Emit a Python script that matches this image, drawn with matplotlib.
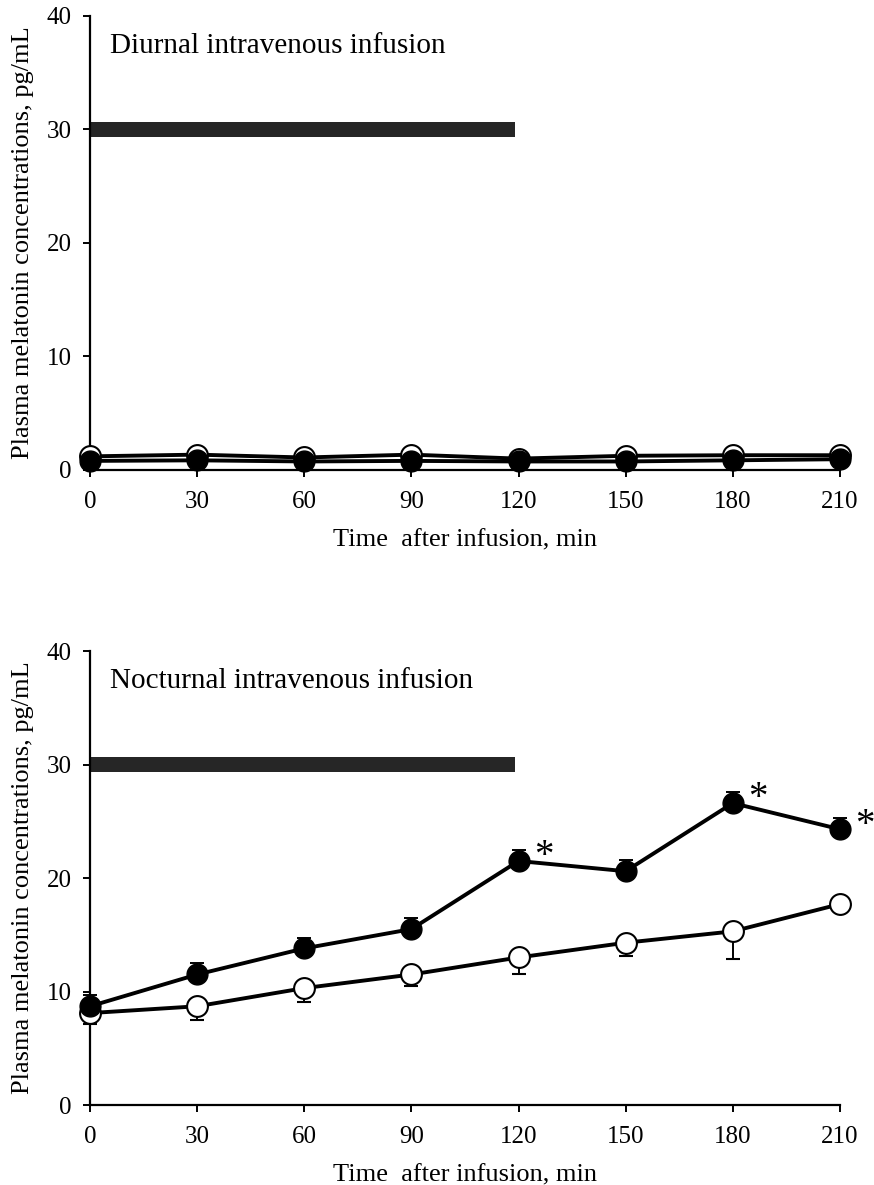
import matplotlib
matplotlib.use("Agg")
import matplotlib.pyplot as plt

# -----------------------------
# Data
# -----------------------------
times = [0, 30, 60, 90, 120, 150, 180, 210]
xticks = [0, 30, 60, 90, 120, 150, 180, 210]
yticks = [0, 10, 20, 30, 40]

# diurnal infusion (top panel)
day_open = [1.2, 1.35, 1.1, 1.35, 1.0, 1.25, 1.3, 1.3]
day_filled = [0.8, 0.85, 0.75, 0.8, 0.75, 0.75, 0.85, 0.95]

# nocturnal infusion (bottom panel)
night_open = [8.1, 8.7, 10.3, 11.5, 13.0, 14.3, 15.3, 17.7]
night_open_err = [1.0, 1.2, 1.2, 1.0, 1.5, 1.2, 2.4, 0.3]
night_filled = [8.7, 11.5, 13.8, 15.5, 21.5, 20.6, 26.6, 24.3]
night_filled_err = [1.0, 1.0, 0.9, 1.0, 1.0, 0.95, 0.95, 0.95]
sig_times = [120, 180, 210]

infusion_start = 0
infusion_end = 119
infusion_level = 30

titles = ["Diurnal intravenous infusion", "Nocturnal intravenous infusion"]

# -----------------------------
# Style
# -----------------------------
plt.rcParams["font.family"] = ["Liberation Serif", "DejaVu Serif"]

fig = plt.figure(figsize=(8.74, 11.85), dpi=100)
ax_top = fig.add_axes([0.103, 0.6034, 0.858, 0.3831])
ax_bot = fig.add_axes([0.103, 0.0675, 0.858, 0.3831])

LW = 2.8
MS = 15


def style_axes(ax, title):
    ax.set_xlim(0, 210)
    ax.set_ylim(0, 40)
    ax.set_xticks(xticks)
    ax.set_yticks(yticks)
    for s in ["top", "right"]:
        ax.spines[s].set_visible(False)
    for s in ["left", "bottom"]:
        ax.spines[s].set_linewidth(1.6)
    ax.tick_params(direction="out", length=5, width=1.4, labelsize=18)
    ax.tick_params(axis="x", pad=10)
    ax.tick_params(axis="y", pad=8)
    ax.set_xlabel("Time  after infusion, min", fontsize=19, labelpad=12)
    ax.set_ylabel("Plasma melatonin concentrations, pg/mL", fontsize=19, labelpad=9)
    ax.text(5.6, 37.4, title, fontsize=21, va="center", ha="left")
    # infusion period bar
    ax.barh(infusion_level, infusion_end - infusion_start, left=infusion_start,
            height=1.4, color="#262626", zorder=2)


# -----------------------------
# Top panel
# -----------------------------
style_axes(ax_top, titles[0])
ax_top.plot(times, day_open, color="black", lw=LW, marker="o", ms=MS,
            mfc="white", mec="black", mew=1.5, zorder=3, clip_on=False)
ax_top.plot(times, day_filled, color="black", lw=LW, marker="o", ms=MS,
            mfc="black", mec="black", zorder=4, clip_on=False)

# -----------------------------
# Bottom panel
# -----------------------------
style_axes(ax_bot, titles[1])
zeros = [0] * len(times)
ax_bot.errorbar(times, night_open, yerr=[night_open_err, zeros], color="black",
                lw=LW, marker="o", ms=MS, mfc="white", mec="black", mew=1.5,
                ecolor="black", elinewidth=1.4, capsize=5, capthick=1.4,
                zorder=3, clip_on=False)
ax_bot.errorbar(times, night_filled, yerr=[zeros, night_filled_err], color="black",
                lw=LW, marker="o", ms=MS, mfc="black", mec="black",
                ecolor="black", elinewidth=1.4, capsize=5, capthick=1.4,
                zorder=4, clip_on=False)

for t in sig_times:
    v = night_filled[times.index(t)]
    ax_bot.annotate("*", (t, v), xytext=(18, 3), textcoords="offset points",
                    ha="center", va="center", fontsize=28)

plt.savefig("out.png", dpi=100)
